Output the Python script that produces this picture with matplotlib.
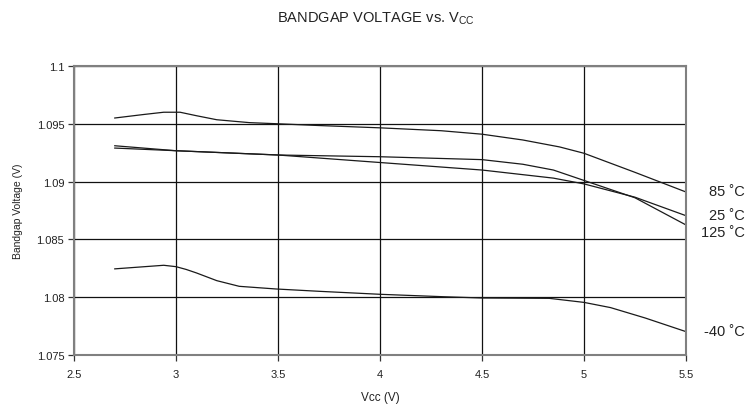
import numpy as np
import matplotlib.pyplot as plt

plt.rcParams['font.family'] = ['Liberation Sans', 'DejaVu Sans']

# curves
v_85 = [2.7, 2.84, 2.94, 3.02, 3.1, 3.2, 3.36, 3.5, 3.7, 4.0, 4.3, 4.5, 4.7, 4.88, 5.0, 5.25, 5.5]
bg_85 = [1.0955, 1.0958, 1.0960, 1.0960, 1.0957, 1.09535, 1.0951, 1.0950, 1.09485, 1.09465, 1.0944, 1.0941, 1.0936, 1.0930, 1.09245, 1.0908, 1.0891]

v_25 = [2.7, 3.0, 3.5, 4.0, 4.5, 4.7, 4.85, 5.0, 5.25, 5.5]
bg_25 = [1.0929, 1.09267, 1.0923, 1.09165, 1.0910, 1.0906, 1.0903, 1.0898, 1.08865, 1.08705]

v_125 = [2.7, 3.0, 3.5, 4.0, 4.5, 4.7, 4.85, 5.0, 5.25, 5.5]
bg_125 = [1.0931, 1.09267, 1.0923, 1.09215, 1.0919, 1.0915, 1.0910, 1.0901, 1.0886, 1.08625]

v_m40 = [2.7, 2.94, 3.0, 3.05, 3.1, 3.2, 3.31, 3.49, 3.7, 4.0, 4.31, 4.5, 4.83, 5.0, 5.13, 5.3, 5.5]
bg_m40 = [1.08245, 1.08276, 1.08264, 1.0824, 1.0821, 1.08143, 1.08094, 1.08071, 1.08051, 1.08025, 1.08004, 1.07993, 1.0799, 1.07955, 1.0791, 1.0782, 1.07702]

labels = ['85 ˚C', '25 ˚C', '125 ˚C', '-40 ˚C']
label_y = [1.08919, 1.08711, 1.08564, 1.07708]

fig = plt.figure(figsize=(7.51, 4.06), dpi=100)
ax = fig.add_axes([0.0985, 0.1232, 0.8149, 0.7118])

for v, b in [(v_85, bg_85), (v_25, bg_25), (v_125, bg_125), (v_m40, bg_m40)]:
    ax.plot(v, b, color='#1a1a1a', lw=0.9)

ax.set_xlim(2.5, 5.5)
ax.set_ylim(1.075, 1.1)
ax.set_xticks(np.arange(2.5, 5.51, 0.5))
ax.set_xticklabels(['2.5', '3', '3.5', '4', '4.5', '5', '5.5'])
ax.set_yticks(np.arange(1.075, 1.1001, 0.005))
ax.set_yticklabels(['1.075', '1.08', '1.085', '1.09', '1.095', '1.1'])
ax.grid(True, color='#111111', lw=0.9)
ax.set_axisbelow(True)
for s in ax.spines.values():
    s.set_color('#808080')
    s.set_linewidth(1.5)
ax.tick_params(direction='out', length=4, width=0.9, color='#333333',
               labelsize=8, labelcolor='#222222')
ax.tick_params(axis='x', pad=6)
ax.tick_params(axis='y', pad=3)

ax.set_xlabel('Vcc (V)', fontsize=8.5, color='#222222', labelpad=9)
ax.set_ylabel('Bandgap Voltage (V)', fontsize=7.5, color='#222222', labelpad=10)

for t, y in zip(labels, label_y):
    ax.text(5.79, y, t, ha='right', va='center', fontsize=10.5, color='#222222', clip_on=False)

fig.text(0.5, 0.955, r'BANDGAP VOLTAGE vs. V$_{\mathregular{CC}}$', ha='center', va='center',
         fontsize=10.5, color='#222222')

fig.savefig('out.png', dpi=100, facecolor='white')
